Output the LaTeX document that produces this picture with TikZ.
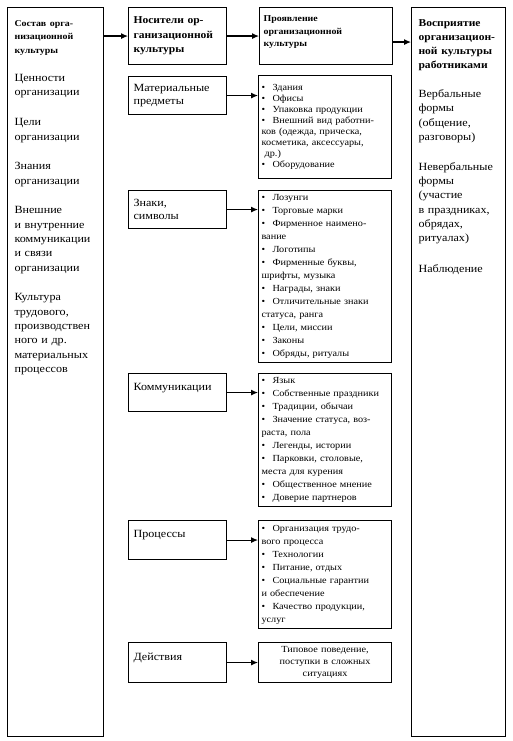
\documentclass[tikz,border=0pt]{standalone}
\usepackage{fontspec}
\setmainfont[FakeStretch=1.1]{Liberation Serif}
\usetikzlibrary{arrows.meta}
\tikzstyle{cell}=[draw, line width=1.1pt, anchor=north west, align=left, inner ysep=3pt]
\tikzstyle{carrier}=[cell, text width=88pt, inner xsep=5pt, minimum height=38pt, font=\fontsize{11}{13}\selectfont]
\tikzstyle{items}=[cell, text width=127pt, inner xsep=3pt, font=\fontsize{9.3}{13}\selectfont]
\tikzstyle{arr}=[draw, line width=1.1pt, -{Latex[length=7pt,width=6pt]}]
\newcommand{\bul}{\makebox[11pt][l]{\textbullet}}
\begin{document}
\begin{tikzpicture}[x=1pt, y=-1pt]
\useasboundingbox (0,0) rectangle (512,741);
\node[cell, text width=82pt, inner xsep=7pt, inner ysep=10pt, text height=9pt, text depth=700pt, font=\fontsize{11}{14.3}\selectfont] (sost) at (7,7)
  {{\bfseries\fontsize{9}{13}\selectfont Состав орга-\\низационной\\культуры}\\[13.5pt]
   Ценности\\организации\\[15.5pt]Цели\\организации\\[15.5pt]Знания\\организации\\[15.5pt]
   Внешние\\и внутренние\\коммуникации\\и связи\\организации\\[15.5pt]
   Культура\\трудового,\\производствен\\ного и др.\\материальных\\процессов};
\node[carrier, minimum height=57pt, font=\bfseries\fontsize{10.5}{14.5}\selectfont] (nos) at (128,7) {Носители ор-\\ганизационной\\культуры};
\node[items, inner xsep=4pt, text width=125pt, inner ysep=5pt, text height=9pt, text depth=38pt, font=\bfseries\fontsize{9}{12.5}\selectfont] (pro) at (259,7) {Проявление\\организационной\\культуры};
\node[cell, text width=80pt, inner xsep=7pt, inner ysep=10pt, text height=8.7pt, text depth=700.3pt, font=\fontsize{11}{14.3}\selectfont] (vos) at (411,7)
  {{\bfseries\fontsize{10.5}{14}\selectfont Восприятие\\организацион-\\ной культуры\\работниками}\\[14.7pt]
   Вербальные\\формы\\(общение,\\разговоры)\\[15.5pt]
   Невербальные\\формы\\(участие\\в праздниках,\\обрядах,\\ритуалах)\\[16pt]
   Наблюдение};
\node[carrier] (mat) at (128,76) {Материальные\\предметы};
\node[items, minimum height=103pt, font=\fontsize{9.3}{10.9}\selectfont] (matl) at (258,75)
  {\bul Здания\\\bul Офисы\\\bul Упаковка продукции\\\bul Внешний вид работни-\\ков (одежда, прическа,\\косметика, аксессуары,\\\ др.)\\\bul Оборудование};
\node[carrier] (zn) at (128,190) {Знаки,\\символы};
\node[items, minimum height=172pt] (znl) at (258,190)
  {\bul Лозунги\\\bul Торговые марки\\\bul Фирменное наимено-\\вание\\\bul Логотипы\\\bul Фирменные буквы,\\шрифты, музыка\\\bul Награды, знаки\\\bul Отличительные знаки\\статуса, ранга\\\bul Цели, миссии\\\bul Законы\\\bul Обряды, ритуалы};
\node[carrier, text depth=12pt] (kom) at (128,373) {Коммуникации};
\node[items, minimum height=133pt] (koml) at (258,373)
  {\bul Язык\\\bul Собственные праздники\\\bul Традиции, обычаи\\\bul Значение статуса, воз-\\раста, пола\\\bul Легенды, истории\\\bul Парковки, столовые,\\места для курения\\\bul Общественное мнение\\\bul Доверие партнеров};
\node[carrier, text depth=12pt, minimum height=39pt] (proc) at (128,520) {Процессы};
\node[items, minimum height=108pt] (procl) at (258,520)
  {\bul Организация трудо-\\вого процесса\\\bul Технологии\\\bul Питание, отдых\\\bul Социальные гарантии\\и обеспечение\\\bul Качество продукции,\\услуг};
\node[carrier, text depth=12pt, minimum height=40pt] (dei) at (128,642) {Действия};
\node[items, align=center, minimum height=40pt, font=\fontsize{9.3}{12}\selectfont] (deil) at (258,642) {Типовое поведение,\\поступки в сложных\\ситуациях};
\draw[arr] (sost.east |- nos.west) -- (nos.west);
\draw[arr] (nos.east) -- (nos.east -| pro.west);
\coordinate (pv) at ([yshift=-6pt]pro.east);
\draw[arr] (pv) -- (pv -| vos.west);
\foreach \a/\b in {mat/matl, zn/znl, kom/koml, proc/procl, dei/deil}
  \draw[arr] (\a.east) -- (\a.east -| \b.west);
\end{tikzpicture}
\end{document}
